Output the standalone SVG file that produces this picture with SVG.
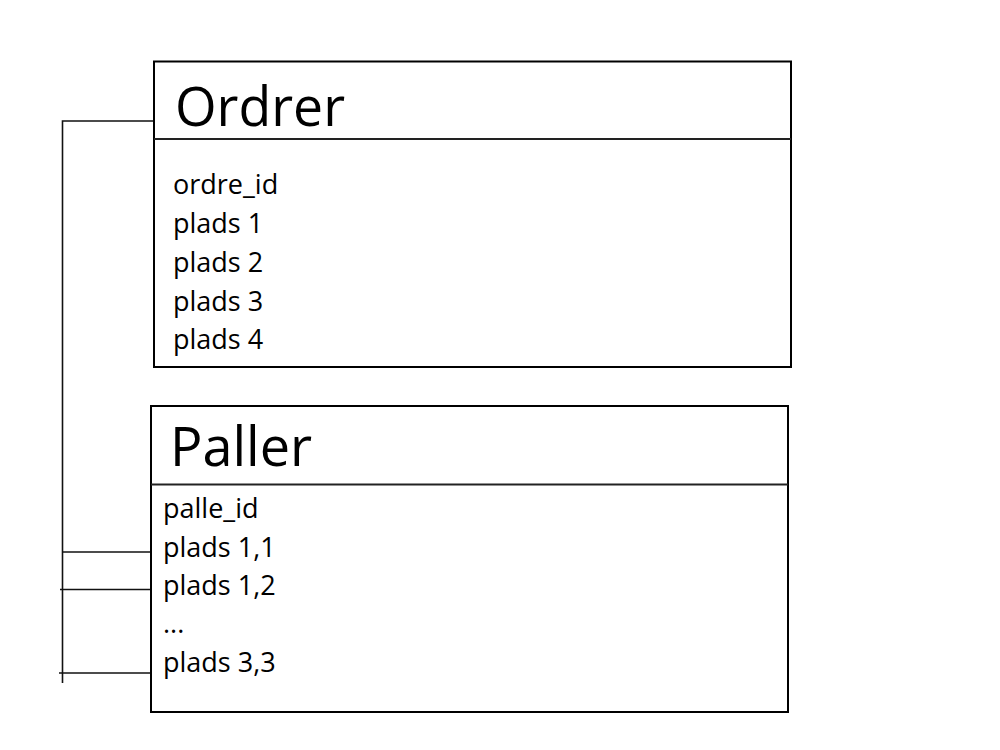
<svg xmlns="http://www.w3.org/2000/svg" width="1000" height="750" viewBox="0 0 1000 750">
<style>
.box{fill:#fff;stroke:#000;stroke-width:2}
.sep{stroke:#222;stroke-width:2}
.title{font-family:"Open Sans","Liberation Sans",sans-serif;font-size:54px;fill:#000}
.field{font-family:"Open Sans","Liberation Sans",sans-serif;font-size:27px;fill:#000}
.conn{fill:none;stroke:#111;stroke-width:1.6}
</style>
<rect width="1000" height="750" fill="#fff"/>
<g id="connectors">
<polyline class="conn" points="153,121 62.5,121 62.5,683"/>
<line class="conn" x1="62" y1="552" x2="150" y2="552"/>
<line class="conn" x1="60" y1="589.5" x2="150" y2="589.5"/>
<line class="conn" x1="59" y1="673" x2="150" y2="673"/>
</g>
<g id="ordrer">
<rect class="box" x="154" y="61.5" width="637" height="305.5"/>
<line class="sep" x1="154" y1="139" x2="791" y2="139"/>
<text class="title" x="175" y="126" textLength="170" lengthAdjust="spacingAndGlyphs">Ordrer</text>
<text class="field" x="173" y="194">ordre_id</text>
<text class="field" x="173" y="233">plads 1</text>
<text class="field" x="173" y="272">plads 2</text>
<text class="field" x="173" y="311">plads 3</text>
<text class="field" x="173" y="349">plads 4</text>
</g>
<g id="paller">
<rect class="box" x="151" y="406" width="637" height="306"/>
<line class="sep" x1="151" y1="484.5" x2="788" y2="484.5"/>
<text class="title" x="170" y="466">Paller</text>
<text class="field" x="163" y="518">palle_id</text>
<text class="field" x="163" y="557">plads 1,1</text>
<text class="field" x="163" y="595">plads 1,2</text>
<text class="field" x="163" y="633">...</text>
<text class="field" x="163" y="672">plads 3,3</text>
</g>
</svg>
